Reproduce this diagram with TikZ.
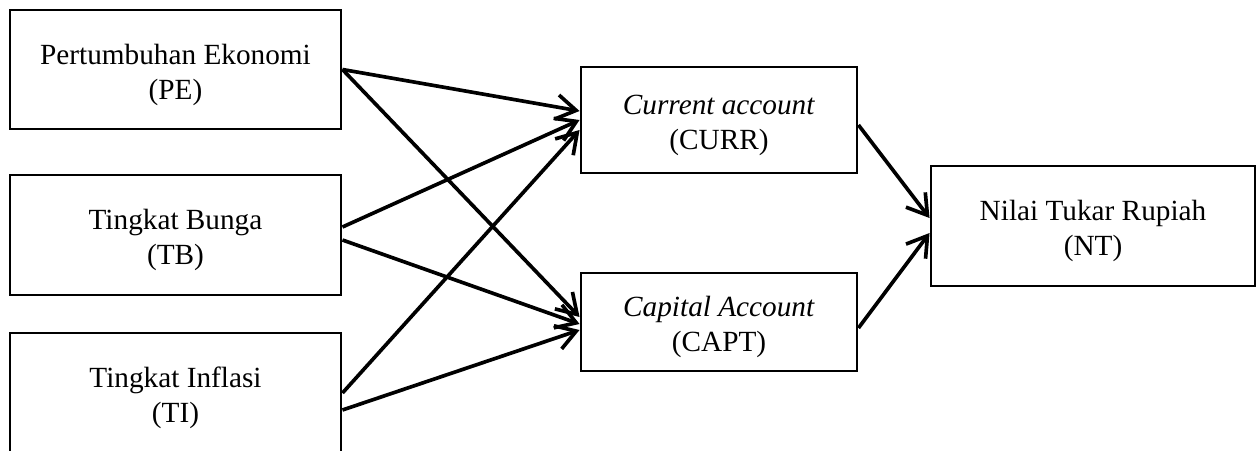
\documentclass[tikz,border=0pt]{standalone}
\usepackage{fontspec}
\setmainfont{Liberation Serif}
\usetikzlibrary{arrows.meta,calc}

\begin{document}
\begin{tikzpicture}[
  x=0.41pt, y=-0.41pt,
  varbox/.style={draw, line width=1.2pt, align=center, inner sep=0pt,
    text height=26.8pt, font=\fontsize{12}{14.3}\selectfont},
  link/.style={line width=1.5pt, -{Straight Barb[length=8pt,width=10pt,line width=1.5pt]}}
]
  \clip (0,0) rectangle (1256,451);

  % independent variables
  \node[varbox, minimum width=331*0.41pt, minimum height=119*0.41pt] (PE) at (175.5,69.5)
    {Pertumbuhan Ekonomi\\(PE)};
  \node[varbox, minimum width=331*0.41pt, minimum height=120*0.41pt] (TB) at (175.5,235)
    {Tingkat Bunga\\(TB)};
  \node[varbox, minimum width=331*0.41pt, minimum height=120*0.41pt] (TI) at (175.5,393)
    {Tingkat Inflasi\\(TI)};

  % intermediate variables
  \node[varbox, minimum width=276*0.41pt, minimum height=106*0.41pt] (CURR) at (719,120)
    {\textit{Current account}\\(CURR)};
  \node[varbox, minimum width=276*0.41pt, minimum height=98*0.41pt] (CAPT) at (719,322)
    {\textit{Capital Account}\\(CAPT)};

  % dependent variable
  \node[varbox, minimum width=324*0.41pt, minimum height=120*0.41pt] (NT) at (1093,226)
    {Nilai Tukar Rupiah\\(NT)};

  % paths to the accounts
  \draw[link] (PE.east) -- ($(CURR.west)+(0,-9)$);
  \draw[link] (PE.east) -- ($(CAPT.west)+(0,-5)$);
  \draw[link] ($(TB.east)+(0,-8)$) -- (CURR.west);
  \draw[link] ($(TB.east)+(0,5)$) -- ($(CAPT.west)+(0,2)$);
  \draw[link] (TI.east) -- ($(CURR.west)+(0,10)$);
  \draw[link] ($(TI.east)+(0,17)$) -- ($(CAPT.west)+(0,8)$);

  % paths to the exchange rate
  \draw[link] ($(CURR.east)+(0,5)$) -- ($(NT.west)+(0,-8)$);
  \draw[link] ($(CAPT.east)+(0,6)$) -- ($(NT.west)+(0,7)$);
\end{tikzpicture}
\end{document}
